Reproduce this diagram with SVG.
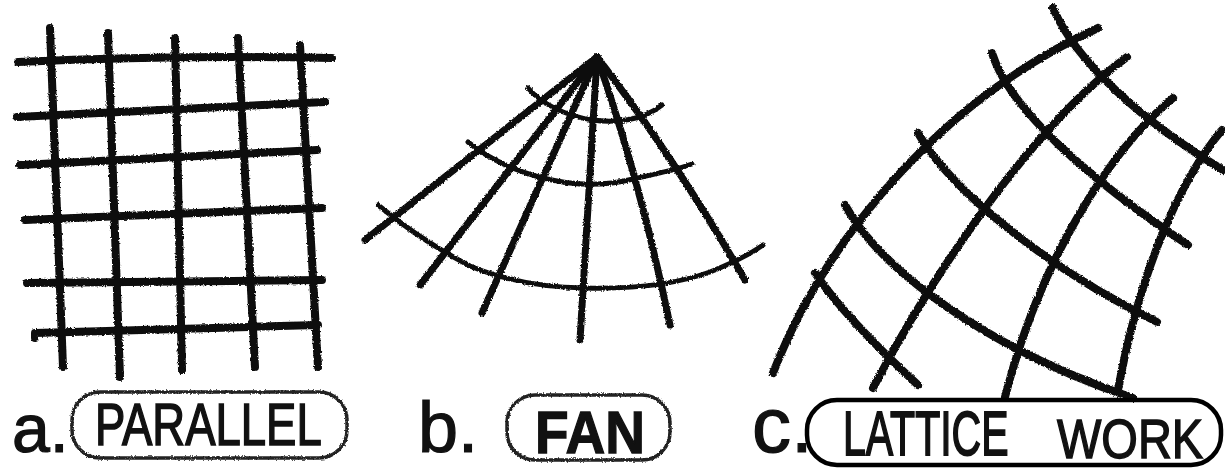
<svg xmlns="http://www.w3.org/2000/svg" width="1225" height="470" viewBox="0 0 1225 470">
<style>
.bg{fill:#fff}
.thick{fill:none;stroke:#111;stroke-width:8;stroke-linecap:round;stroke-linejoin:round}
.ray{fill:none;stroke:#111;stroke-width:7;stroke-linecap:round}
.arc{fill:none;stroke:#111;stroke-width:5;stroke-linecap:round}
.bubble{fill:none;stroke:#222;stroke-width:3.5}
.bubble2{fill:none;stroke:#000;stroke-width:4.5}
.lbl{font-family:"Liberation Sans",Arial,sans-serif;fill:#111;stroke:#111;stroke-width:1.2}
</style>
<defs>
<filter id="rough" x="-5%" y="-5%" width="110%" height="110%">
<feTurbulence type="fractalNoise" baseFrequency="0.6" numOctaves="2" seed="3" result="n"/>
<feDisplacementMap in="SourceGraphic" in2="n" scale="3" xChannelSelector="R" yChannelSelector="G"/>
</filter>
</defs>
<rect class="bg" x="0" y="0" width="1225" height="470"/>

<g id="panel-a" filter="url(#rough)">
<path class="thick" d="M50,28 L63,367"/>
<path class="thick" d="M108,33 L120,377"/>
<path class="thick" d="M175,38 L182,370"/>
<path class="thick" d="M238,38 L255,367"/>
<path class="thick" d="M300,45 L318,367"/>
<path class="thick" d="M18,62 Q175,55 332,58"/>
<path class="thick" d="M17,117 L325,102"/>
<path class="thick" d="M20,165 L317,150"/>
<path class="thick" d="M25,220 L322,208"/>
<path class="thick" d="M27,283 L322,280"/>
<path class="thick" d="M35,338 L35,333 L318,325"/>
</g>

<g id="panel-b" filter="url(#rough)">
<path class="ray" d="M597,57 L365,240"/>
<path class="ray" d="M597,57 L420,285"/>
<path class="ray" d="M597,57 L482,313"/>
<path class="ray" d="M597,57 L580,340"/>
<path class="ray" d="M597,57 Q640,180 670,325"/>
<path class="ray" d="M597,57 Q676,160 745,280"/>
<path class="arc" d="M528,88 C555,120 625,135 662,105"/>
<path class="arc" d="M468,142 Q495,165 543,178 Q590,190 633,179 Q675,170 692,164"/>
<path class="arc" d="M378,205 Q420,240 470,266 Q520,287 585,288 Q660,290 710,272 Q745,258 763,245"/>
</g>

<g id="panel-c" filter="url(#rough)">
<path class="thick" d="M773,373 C825,240 940,100 1098,28"/>
<path class="thick" d="M1127,57 C1040,120 940,260 873,388"/>
<path class="thick" d="M1173,98 C1110,150 1040,260 1005,397"/>
<path class="thick" d="M1222,130 C1180,180 1140,270 1118,390"/>
<path class="thick" d="M1053,8 C1075,60 1140,120 1223,170"/>
<path class="thick" d="M992,53 C1010,110 1090,180 1188,245"/>
<path class="thick" d="M918,133 C950,190 1050,270 1157,322"/>
<path class="thick" d="M845,205 C880,270 990,350 1133,398"/>
<path class="thick" d="M815,273 C840,310 880,350 918,385"/>
</g>

<g id="label-a">
<rect class="bubble" x="72" y="392" width="275" height="66" rx="28" filter="url(#rough)"/>
<text class="lbl" x="12" y="452" font-size="68">a.</text>
<text class="lbl" transform="translate(95,445) scale(1,1.29)" font-size="45.5">PARALLEL</text>
</g>

<g id="label-b">
<rect class="bubble" x="507" y="395" width="163" height="65" rx="28" filter="url(#rough)"/>
<text class="lbl" x="418" y="452" font-size="72">b.</text>
<text class="lbl" transform="translate(535,453) scale(1,1.09)" font-size="55" font-weight="bold">FAN</text>
</g>

<g id="label-c">
<rect class="bubble2" x="807" y="400" width="414" height="65" rx="30"/>
<text class="lbl" x="752" y="452" font-size="78">c.</text>
<text class="lbl" transform="translate(843,455) scale(1,1.55)" font-size="41">LATTICE</text>
<text class="lbl" transform="translate(1057,458) scale(1,1.19)" font-size="47">WORK</text>
</g>
</svg>
